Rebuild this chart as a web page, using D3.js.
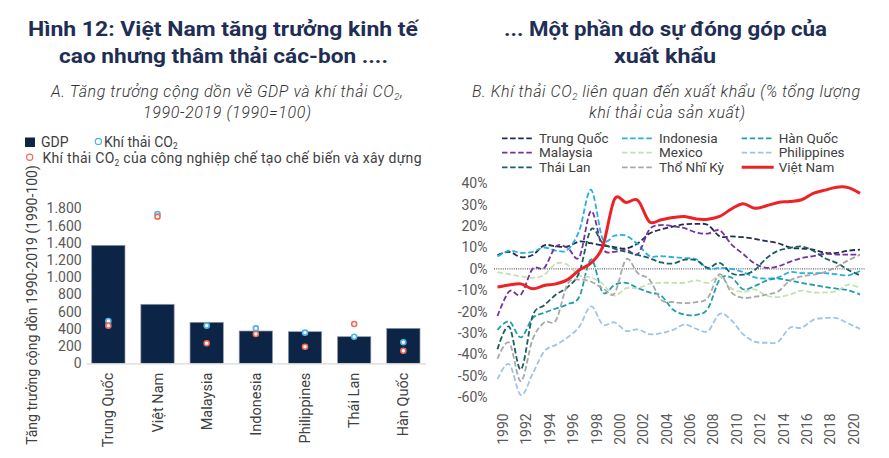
<!DOCTYPE html>
<html><head><meta charset="utf-8">
<script src="https://cdn.jsdelivr.net/npm/d3@7"></script>
<style>
html,body{margin:0;padding:0;background:#fff;}
svg{display:block;font-family:Roboto,"Noto Sans",sans-serif;}
</style></head><body>
<svg id="chart" width="889" height="458"></svg>
<script>
// ---------- Panel A data ----------
const leftCategories = ["Trung Quốc","Việt Nam","Malaysia","Indonesia","Philippines","Thái Lan","Hàn Quốc"];
const gdpValues = [1370, 685, 476, 375, 367, 309, 406];
const co2Values = [491, 1734, 437, 406, 356, 309, 244];
const co2IndustryValues = [437, 1703, 232, 340, 193, 456, 146];
const leftTicks = [0, 200, 400, 600, 800, 1000, 1200, 1400, 1600, 1800];

// ---------- Panel B data ----------
const years = [1990,1991,1992,1993,1994,1995,1996,1997,1998,1999,2000,2001,2002,2003,2004,2005,
               2006,2007,2008,2009,2010,2011,2012,2013,2014,2015,2016,2017,2018,2019,2020,2021];
const yearTickLabels = [1990,1992,1994,1996,1998,2000,2002,2004,2006,2008,2010,2012,2014,2016,2018,2020];
const pctTicks = [40, 30, 20, 10, 0, -10, -20, -30, -40, -50, -60];

const trungQuoc  = [6.5,8,5.5,6.5,11,10.5,10.5,12.8,12,11,10.2,9.5,12,16.5,18.5,19.8,20.8,21,20.5,15.2,15.2,14.8,14,13,12,10,9.5,9,7.5,7.5,8.5,9];
const indonesia  = [5.8,8.5,7.5,8,10,8.5,9,18,37,14,15.5,15.5,11.5,6,6,5.5,5,4.5,0,0.5,0,-1.5,-4,-4.5,-4,-1.5,-2,-2,-2,-2.5,-3,-1];
const hanQuoc    = [-28.5,-24.5,-32,-23,-20.5,-18.5,-16.5,-13,4.5,-11,-7.5,-6.5,-9,-11,-12.5,-19,-21.3,-21.5,-18.5,-5,-4,-9.5,-8,-5.5,-4.5,-5.5,-6.5,-7.5,-8.5,-9.2,-10,-12];
const malaysia   = [-22,-10.5,-12,0,0.5,10.5,9.8,5.5,27,9.5,8,9,7,18.5,20.5,20,19,17,16.5,18,11.5,7,2.5,0.5,1.2,3.3,5,6,7,6.7,6.7,6.6];
const mexico     = [-1.5,-2.5,-3.5,-4.2,-2.8,2.5,1.8,-3,-4,-7,-12.5,-9,-9,-7,-6.5,-6.5,-6.5,-5.4,-6.5,-3.5,-9,-10.8,-9.6,-12.5,-13.2,-12,-10.2,-11,-11,-10.4,-7.3,-9];
const philippines= [-51.5,-44.5,-59,-49,-38.5,-35.5,-32,-27,-17.5,-26,-25,-29,-28.3,-30.5,-30,-28.5,-26,-28,-29,-21,-24,-30.5,-34,-34.5,-34,-27.5,-27.5,-23.8,-23,-23,-25.5,-28];
const thaiLan    = [-37.5,-27,-47,-22,-17,-12,-8.5,-1.5,18.5,12,9.5,8,6.5,5,3,2.5,4.3,4,0.5,2.8,-2,-2.7,-0.5,5,8.5,9.8,10.5,8.5,5,2.8,-0.5,-3];
const thoNhiKy   = [-42,-34.5,-52.5,-33,-25,-24,-7,-5,-6,-9,-11.5,4.5,-2,-5,-14.5,-15.5,-16,-15.5,-13.5,-2.5,-11,-13.5,-13,-12,-10.5,-5.5,-3.5,-2.7,-1.5,1,4,6.6];
const vietNam    = [-8.5,-7.5,-7,-9.3,-7.8,-7,-5,-0.5,2.8,10.5,32.5,31,32,22,23,24,24.5,23.3,23.2,24.5,28,30.5,28.3,29.5,31,31.5,32.3,35.3,36.8,38.2,38,35.3];

const seriesNames = ["Trung Quốc","Indonesia","Hàn Quốc","Malaysia","Mexico","Philippines","Thái Lan","Thổ Nhĩ Kỳ","Việt Nam"];
const seriesValues = [trungQuoc, indonesia, hanQuoc, malaysia, mexico, philippines, thaiLan, thoNhiKy, vietNam];
const seriesColors = ["#1f2d50","#2aaee4","#1f9ea9","#7232a0","#c6e0b5","#9fc4e8","#1b5f63","#a8a8a8","#ee2226"];

// ---------- helpers ----------
const svg = d3.select("#chart");
const textGrey = "#404040";
const axisGrey = "#595959";

function richText(x, y, parts, opts) {
  const t = svg.append("text").attr("x", x).attr("y", y)
    .attr("text-anchor", opts.anchor || "start")
    .attr("font-size", opts.size).attr("fill", opts.fill)
    .attr("font-weight", opts.weight || 400)
    .attr("font-style", opts.style || "normal");
  if (opts.len) t.attr("textLength", opts.len).attr("lengthAdjust", "spacing");
  const sd = opts.subDy || 3;
  let shifted = false;
  parts.forEach(p => {
    const ts = t.append("tspan").text(p.t);
    if (p.sub) { ts.attr("font-size", opts.size * 0.6).attr("dy", sd); shifted = true; }
    else if (shifted) { ts.attr("dy", -sd); shifted = false; }
  });
  return t;
}

function title(x, y, str, len) {
  svg.append("text").attr("x", x).attr("y", y).attr("text-anchor", "middle")
    .attr("font-size", 21).attr("font-weight", 700).attr("fill", "#1f2e55")
    .attr("textLength", len).attr("lengthAdjust", "spacingAndGlyphs").text(str);
}

// ---------- titles ----------
title(223, 36, "Hình 12: Việt Nam tăng trưởng kinh tế", 390);
title(223.5, 63, "cao nhưng thâm thải các-bon ....", 329);
title(665.5, 36, "... Một phần do sự đóng góp của", 323);
title(665, 63, "xuất khẩu", 102);

const subBase = {anchor: "middle", size: 16, fill: "#333333", weight: 300, style: "italic"};
richText(227, 97, [{t: "A. Tăng trưởng cộng dồn về GDP và khí thải CO"}, {t: "2", sub: true}, {t: ","}], Object.assign({len: 352}, subBase));
richText(227, 118, [{t: "1990-2019 (1990=100)"}], Object.assign({len: 168}, subBase));
richText(666, 97, [{t: "B. Khí thải CO"}, {t: "2", sub: true}, {t: " liên quan đến xuất khẩu (% tổng lượng"}], Object.assign({len: 388}, subBase));
richText(667, 118, [{t: "khí thải của sản xuất)"}], Object.assign({len: 156}, subBase));

// ---------- Panel A ----------
const barColor = "#0c2546";
const blueDot = "#4db3e4";
const redDot = "#f26a57";

const xL = d3.scaleBand().domain(leftCategories).range([86, 425.7]).paddingInner(0.323).paddingOuter(0.116);
const yL = d3.scaleLinear().domain([0, 1800]).range([363.3, 208.3]);

// legend A
svg.append("rect").attr("x", 25).attr("y", 137.5).attr("width", 10).attr("height", 9.5).attr("fill", barColor);
richText(41, 146.7, [{t: "GDP"}], {size: 14, fill: textGrey});
svg.append("circle").attr("cx", 98.4).attr("cy", 141.4).attr("r", 3.1).attr("fill", "#fff").attr("stroke", blueDot).attr("stroke-width", 1.2);
richText(104, 146.7, [{t: "Khí thải CO"}, {t: "2", sub: true}], {size: 14, fill: textGrey, subDy: 2.5});
svg.append("circle").attr("cx", 29.7).attr("cy", 157.2).attr("r", 3.1).attr("fill", "#fff").attr("stroke", redDot).attr("stroke-width", 1.2);
richText(42.5, 163, [{t: "Khí thải CO"}, {t: "2", sub: true}, {t: " của công nghiệp chế tạo chế biến và xây dựng"}], {size: 14, fill: textGrey, len: 379});

// y axis A
const fmtDot = v => d3.format(",")(v).replace(/,/g, ".");
const yAxisL = svg.append("g").attr("transform", "translate(81.7,0)")
  .call(d3.axisLeft(yL).tickValues(leftTicks).tickSize(0).tickPadding(0).tickFormat(fmtDot));
yAxisL.select(".domain").remove();
yAxisL.selectAll("text").attr("font-size", 14).attr("fill", axisGrey).attr("font-family", "Roboto");

// y title A
svg.append("text").attr("transform", "translate(36.5,305) rotate(-90)")
  .attr("text-anchor", "middle").attr("font-size", 14).attr("fill", textGrey)
  .text("Tăng trưởng cộng dồn 1990-2019 (1990-100)");

// bars
svg.append("g").selectAll("rect").data(leftCategories).join("rect")
  .attr("x", d => xL(d)).attr("width", xL.bandwidth())
  .attr("y", (d, i) => yL(gdpValues[i])).attr("height", (d, i) => yL(0) - yL(gdpValues[i]))
  .attr("fill", barColor).attr("stroke", "#8f99ab").attr("stroke-width", 0.7);

// x axis A
const xAxisL = svg.append("g").attr("transform", `translate(0,${yL(0)})`)
  .call(d3.axisBottom(xL).tickSize(0).tickSizeOuter(0));
xAxisL.select(".domain").attr("stroke", "#d9d9d9").attr("stroke-width", 1.2);
xAxisL.selectAll("text").attr("font-size", 14.5).attr("fill", textGrey).attr("font-family", "Roboto")
  .attr("transform", "rotate(-90)").attr("text-anchor", "end")
  .attr("x", -9.4).attr("y", 0).attr("dy", "0.35em");

// dots
const dotG = svg.append("g");
dotG.selectAll("circle.co2").data(leftCategories).join("circle").attr("class", "co2")
  .attr("cx", d => xL(d) + xL.bandwidth() / 2).attr("cy", (d, i) => yL(co2Values[i]))
  .attr("r", 2.5).attr("fill", "#fff").attr("stroke", blueDot).attr("stroke-width", 1.6);
dotG.selectAll("circle.ind").data(leftCategories).join("circle").attr("class", "ind")
  .attr("cx", d => xL(d) + xL.bandwidth() / 2).attr("cy", (d, i) => yL(co2IndustryValues[i]))
  .attr("r", 2.5).attr("fill", "#fff").attr("stroke", redDot).attr("stroke-width", 1.6);

// ---------- Panel B ----------
const xR = d3.scaleLinear().domain([1990, 2021]).range([497.5, 860]);
const yR = d3.scaleLinear().domain([-60, 40]).range([397.3, 183.3]);

// legend B
const legCols = [502, 622, 741.7];
const legRows = [138.3, 152.7, 167.3];
seriesNames.forEach((name, i) => {
  const cx = legCols[i % 3], cy = legRows[Math.floor(i / 3)];
  const isVN = name === "Việt Nam";
  svg.append("line").attr("x1", cx).attr("x2", cx + 32).attr("y1", cy).attr("y2", cy)
    .attr("stroke", seriesColors[i]).attr("stroke-width", isVN ? 3 : 1.8)
    .attr("stroke-dasharray", isVN ? null : "5.5,2.6");
  richText(cx + 37, cy + 4.6, [{t: name}], {size: 13.5, fill: textGrey});
});

// y axis B
const yAxisR = svg.append("g").attr("transform", "translate(487.5,0)")
  .call(d3.axisLeft(yR).tickValues(pctTicks).tickSize(0).tickPadding(0).tickFormat(d => d + "%"));
yAxisR.select(".domain").remove();
yAxisR.selectAll("text").attr("font-size", 14).attr("fill", axisGrey).attr("font-family", "Roboto");

// x axis B
const xAxisR = svg.append("g").attr("transform", "translate(0,413.3)")
  .call(d3.axisBottom(xR).tickValues(yearTickLabels).tickSize(0).tickFormat(d3.format("d")));
xAxisR.select(".domain").remove();
xAxisR.selectAll("text").attr("font-size", 14).attr("fill", axisGrey).attr("font-family", "Roboto")
  .attr("transform", "rotate(-90)").attr("text-anchor", "end")
  .attr("x", 0).attr("y", 0).attr("dy", "10px");

// zero line
svg.append("line").attr("x1", xR(1990) - 3.5).attr("x2", xR(2021) + 4.5)
  .attr("y1", yR(0)).attr("y2", yR(0))
  .attr("stroke", "#222").attr("stroke-width", 0.9).attr("stroke-dasharray", "1,1.2");

// lines
const line = d3.line().x(d => xR(d[0])).y(d => yR(d[1])).curve(d3.curveCatmullRom.alpha(0));
const linesG = svg.append("g").attr("fill", "none");
seriesNames.forEach((name, i) => {
  const isVN = name === "Việt Nam";
  linesG.append("path")
    .attr("d", line(years.map((y, k) => [y, seriesValues[i][k]])))
    .attr("stroke", seriesColors[i])
    .attr("stroke-width", isVN ? 3 : 1.8)
    .attr("stroke-dasharray", isVN ? null : "5.5,2.6")
    .attr("stroke-linejoin", "round");
});
</script>
</body></html>
